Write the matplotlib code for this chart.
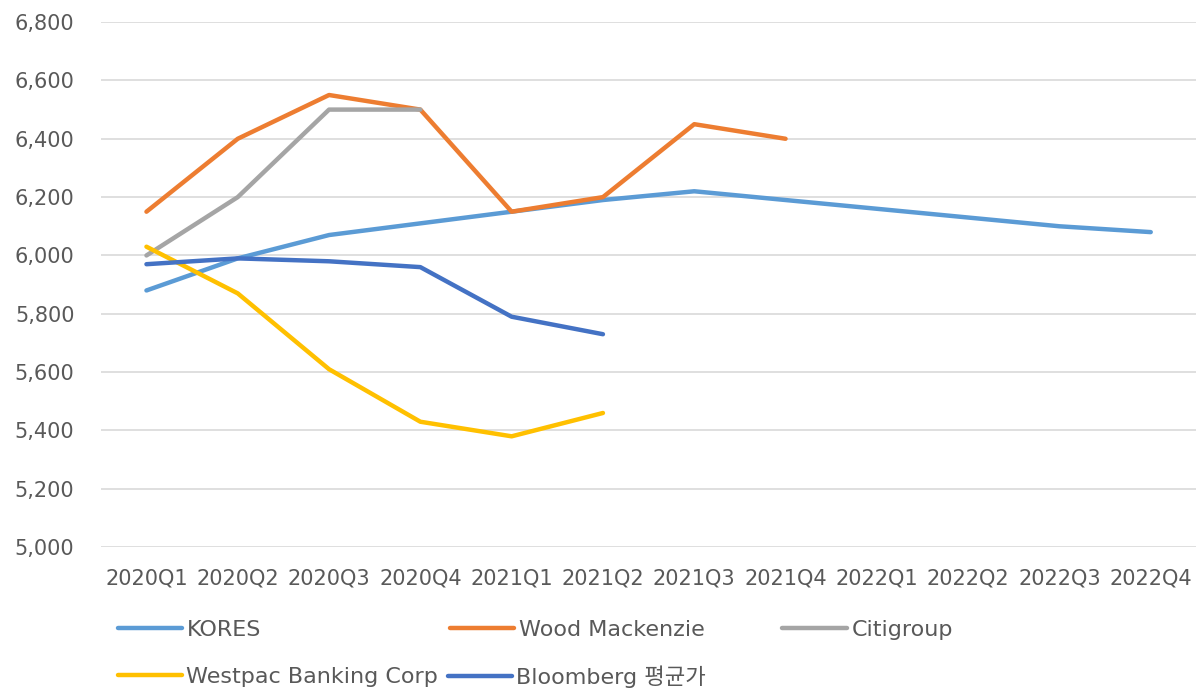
import matplotlib.pyplot as plt
from matplotlib.ticker import FuncFormatter, MultipleLocator

plt.rcParams['font.family'] = ['DejaVu Sans', 'Noto Sans CJK KR']

quarters = ['2020Q1', '2020Q2', '2020Q3', '2020Q4', '2021Q1', '2021Q2',
            '2021Q3', '2021Q4', '2022Q1', '2022Q2', '2022Q3', '2022Q4']

kores = [5880, 5990, 6070, 6110, 6150, 6190, 6220, 6190, 6160, 6130, 6100, 6080]
wood_mackenzie = [6150, 6400, 6550, 6500, 6150, 6200, 6450, 6400]
citigroup = [6000, 6200, 6500, 6500]
westpac = [6030, 5870, 5610, 5430, 5380, 5460]
bloomberg = [5970, 5990, 5980, 5960, 5790, 5730]

series = [
    ('KORES', kores, '#5B9BD5'),
    ('Wood Mackenzie', wood_mackenzie, '#ED7D31'),
    ('Citigroup', citigroup, '#A5A5A5'),
    ('Westpac Banking Corp', westpac, '#FFC000'),
    ('Bloomberg 평균가', bloomberg, '#4472C4'),
]

text_color = '#595959'

fig = plt.figure(figsize=(12, 6.9), dpi=100)
ax = fig.add_axes([0.084, 0.207, 0.913, 0.761])

lines = []
for name, vals, color in series:
    ln, = ax.plot(range(len(vals)), vals, color=color, lw=3.2, label=name,
                  solid_capstyle='round', solid_joinstyle='round')
    lines.append(ln)

ax.set_xlim(-0.5, len(quarters) - 0.5)
ax.set_ylim(5000, 6800)
ax.set_xticks(range(len(quarters)))
ax.set_xticklabels(quarters)
ax.yaxis.set_major_locator(MultipleLocator(200))
ax.yaxis.set_major_formatter(FuncFormatter(lambda v, p: f'{int(v):,}'))
ax.grid(axis='y', color='#D9D9D9', lw=1.2)
ax.set_axisbelow(True)
for s in ax.spines.values():
    s.set_visible(False)
ax.tick_params(axis='both', length=0, labelsize=15, colors=text_color)
ax.tick_params(axis='x', pad=15)
ax.tick_params(axis='y', pad=19)

# legend entries placed like the original (two rows, uneven columns)
legend_pos = [(0.098, 0.087), (0.375, 0.087), (0.652, 0.087),
              (0.098, 0.019), (0.373, 0.019)]
for ln, (x, y) in zip(lines, legend_pos):
    fig.legend(handles=[ln], loc='center left', bbox_to_anchor=(x, y),
               frameon=False, fontsize=16, handlelength=2.9,
               handletextpad=0.2, borderpad=0, borderaxespad=0,
               labelcolor=text_color)

fig.savefig('out.png', dpi=100)
